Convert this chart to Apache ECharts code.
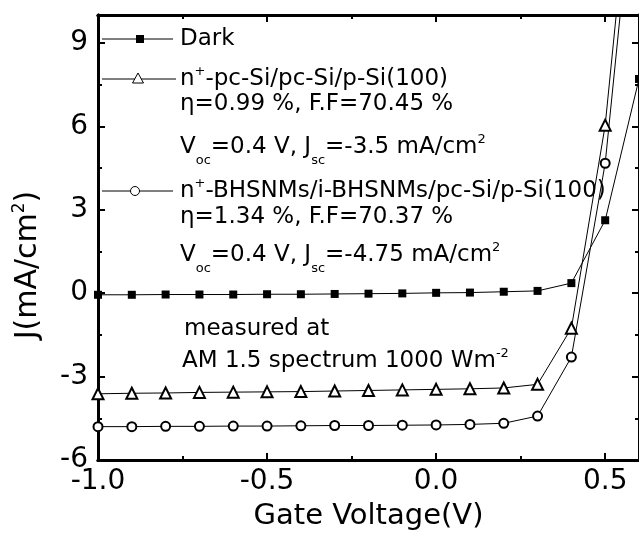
<!DOCTYPE html>
<html>
<head>
<meta charset="utf-8">
<script src="https://cdn.jsdelivr.net/npm/echarts@6/dist/echarts.min.js"></script>
<style>
  html, body { margin: 0; padding: 0; background: #fff; }
  #main { width: 639px; height: 542px; }
</style>
</head>
<body>
<div id="main"></div>
<script>
// gate voltage (V)
var voltage = [-1.0, -0.9, -0.8, -0.7, -0.6, -0.5, -0.4, -0.3, -0.2, -0.1, 0.0, 0.1, 0.2, 0.3, 0.4, 0.5, 0.6];
// current density J (mA/cm2)
var darkJ = [-0.06, -0.06, -0.05, -0.05, -0.05, -0.04, -0.04, -0.03, -0.02, -0.01, 0.01, 0.02, 0.05, 0.08, 0.36, 2.62, 7.7];
var pcSiJ = [-3.62, -3.6, -3.59, -3.57, -3.56, -3.55, -3.54, -3.52, -3.5, -3.48, -3.46, -3.44, -3.41, -3.28, -1.26, 6.04, 18.2];
var bhsnmJ = [-4.8, -4.8, -4.79, -4.79, -4.78, -4.78, -4.77, -4.76, -4.76, -4.75, -4.74, -4.72, -4.68, -4.42, -2.3, 4.67, 16.7];

// tick positions
var xMajor = [-1.0, -0.5, 0.0, 0.5];
var xMinor = [-0.75, -0.25, 0.25];
var yMajor = [-6, -3, 0, 3, 6, 9];
var yMinor = [-4.5, -1.5, 1.5, 4.5, 7.5];

var FONT = 'DejaVu Sans';

function pairs(xs, ys) {
    return xs.map(function (x, i) { return [x, ys[i]]; });
}

// one axis of the frame; labels only on the main bottom/left ones
function frameAxis(pos, min, max, ticks, len, labelVals, extra) {
    var ax = {
        type: 'value', position: pos, min: min, max: max,
        axisLine: { show: true, onZero: false, lineStyle: { color: '#000', width: 3 } },
        axisTick: { show: true, inside: true, length: len, customValues: ticks, lineStyle: { color: '#000', width: 2 } },
        splitLine: { show: false },
        axisLabel: labelVals ? {
            show: true, customValues: labelVals,
            fontFamily: FONT, fontSize: 28, color: '#000'
        } : { show: false }
    };
    return Object.assign(ax, extra || {});
}

var txtRich = {
    b: { fontFamily: FONT, fontSize: 23, color: '#000', lineHeight: 28 },
    sup: { fontFamily: FONT, fontSize: 13, color: '#000', verticalAlign: 'top', lineHeight: 14 },
    sub: { fontFamily: FONT, fontSize: 13, color: '#000', verticalAlign: 'bottom', lineHeight: 14, padding: [0, 0, -6, 0] }
};

function label(x, y, text) {
    return {
        type: 'text', x: x, y: y,
        style: { text: text, rich: txtRich, verticalAlign: 'middle', align: 'left' }
    };
}

function legendLine(y, x1, x2) {
    return {
        type: 'line',
        shape: { x1: x1, y1: y, x2: x2, y2: y },
        style: { stroke: '#000', lineWidth: 1 }
    };
}

var chart = echarts.init(document.getElementById('main'), null, { renderer: 'canvas' });

var xBottom = frameAxis('bottom', -1, 0.6, xMajor, 7, xMajor, {
    name: 'Gate Voltage(V)', nameLocation: 'middle', nameGap: 42,
    nameTextStyle: { fontFamily: FONT, fontSize: 29, color: '#000' }
});
xBottom.axisLabel.margin = 8;
xBottom.axisLabel.formatter = function (v) { return v.toFixed(1); };

var yLeft = frameAxis('left', -6, 10, yMajor, 7, yMajor);
yLeft.axisLabel.margin = 10;

var option = {
    animation: false,
    backgroundColor: '#fff',
    grid: { left: 98, top: 15, width: 542, height: 445, containLabel: false },
    xAxis: [
        xBottom,
        frameAxis('bottom', -1, 0.6, xMinor, 4),
        frameAxis('top', -1, 0.6, xMajor, 7),
        frameAxis('top', -1, 0.6, xMinor, 4)
    ],
    yAxis: [
        yLeft,
        frameAxis('left', -6, 10, yMinor, 4),
        frameAxis('right', -6, 10, yMajor, 7),
        frameAxis('right', -6, 10, yMinor, 4)
    ],
    series: [
        {
            name: 'Dark', type: 'line', data: pairs(voltage, darkJ),
            symbol: 'rect', symbolSize: 8,
            lineStyle: { color: '#000', width: 1 },
            itemStyle: { color: '#000' },
            z: 3
        },
        {
            name: 'pcSi', type: 'line', data: pairs(voltage, pcSiJ),
            symbol: 'emptyTriangle', symbolSize: 11,
            lineStyle: { color: '#000', width: 1 },
            itemStyle: { color: '#000', borderWidth: 1 },
            z: 3
        },
        {
            name: 'bhsnm', type: 'line', data: pairs(voltage, bhsnmJ),
            symbol: 'emptyCircle', symbolSize: 9,
            lineStyle: { color: '#000', width: 1 },
            itemStyle: { color: '#000', borderWidth: 1 },
            z: 3
        }
    ],
    graphic: [
        // y axis title
        {
            type: 'text', x: 28, y: 265, rotation: Math.PI / 2,
            style: {
                text: '{a|J(mA/cm}{s|2}{a|)}',
                align: 'center', verticalAlign: 'middle',
                rich: {
                    a: { fontFamily: FONT, fontSize: 30, color: '#000', lineHeight: 34 },
                    s: { fontFamily: FONT, fontSize: 17, color: '#000', verticalAlign: 'top', lineHeight: 18 }
                }
            }
        },
        // legend swatches
        legendLine(39, 102, 173),
        { type: 'rect', shape: { x: 136, y: 35, width: 8, height: 8 }, style: { fill: '#000' } },
        legendLine(79, 102, 176),
        { type: 'polygon', shape: { points: [[138, 73], [132.5, 83], [143.5, 83]] }, style: { fill: '#fff', stroke: '#000', lineWidth: 1 } },
        legendLine(191, 102, 173),
        { type: 'circle', shape: { cx: 135, cy: 191, r: 4.5 }, style: { fill: '#fff', stroke: '#000', lineWidth: 1 } },
        // legend texts
        label(180, 39, '{b|Dark}'),
        label(180, 79, '{b|n}{sup|+}{b|-pc-Si/pc-Si/p-Si(100)}'),
        label(180, 104, '{b|\u03b7=0.99 %, F.F=70.45 %}'),
        label(180, 147, '{b|V}{sub|oc}{b|=0.4 V, J}{sub|sc}{b|=-3.5 mA/cm}{sup|2}'),
        label(180, 191, '{b|n}{sup|+}{b|-BHSNMs/i-BHSNMs/pc-Si/p-Si(100)}'),
        label(180, 217, '{b|\u03b7=1.34 %, F.F=70.37 %}'),
        label(180, 255, '{b|V}{sub|oc}{b|=0.4 V, J}{sub|sc}{b|=-4.75 mA/cm}{sup|2}'),
        label(184, 329, '{b|measured at}'),
        label(182, 361, '{b|AM 1.5 spectrum 1000 Wm}{sup|-2}')
    ]
};

chart.setOption(option);
</script>
</body>
</html>
